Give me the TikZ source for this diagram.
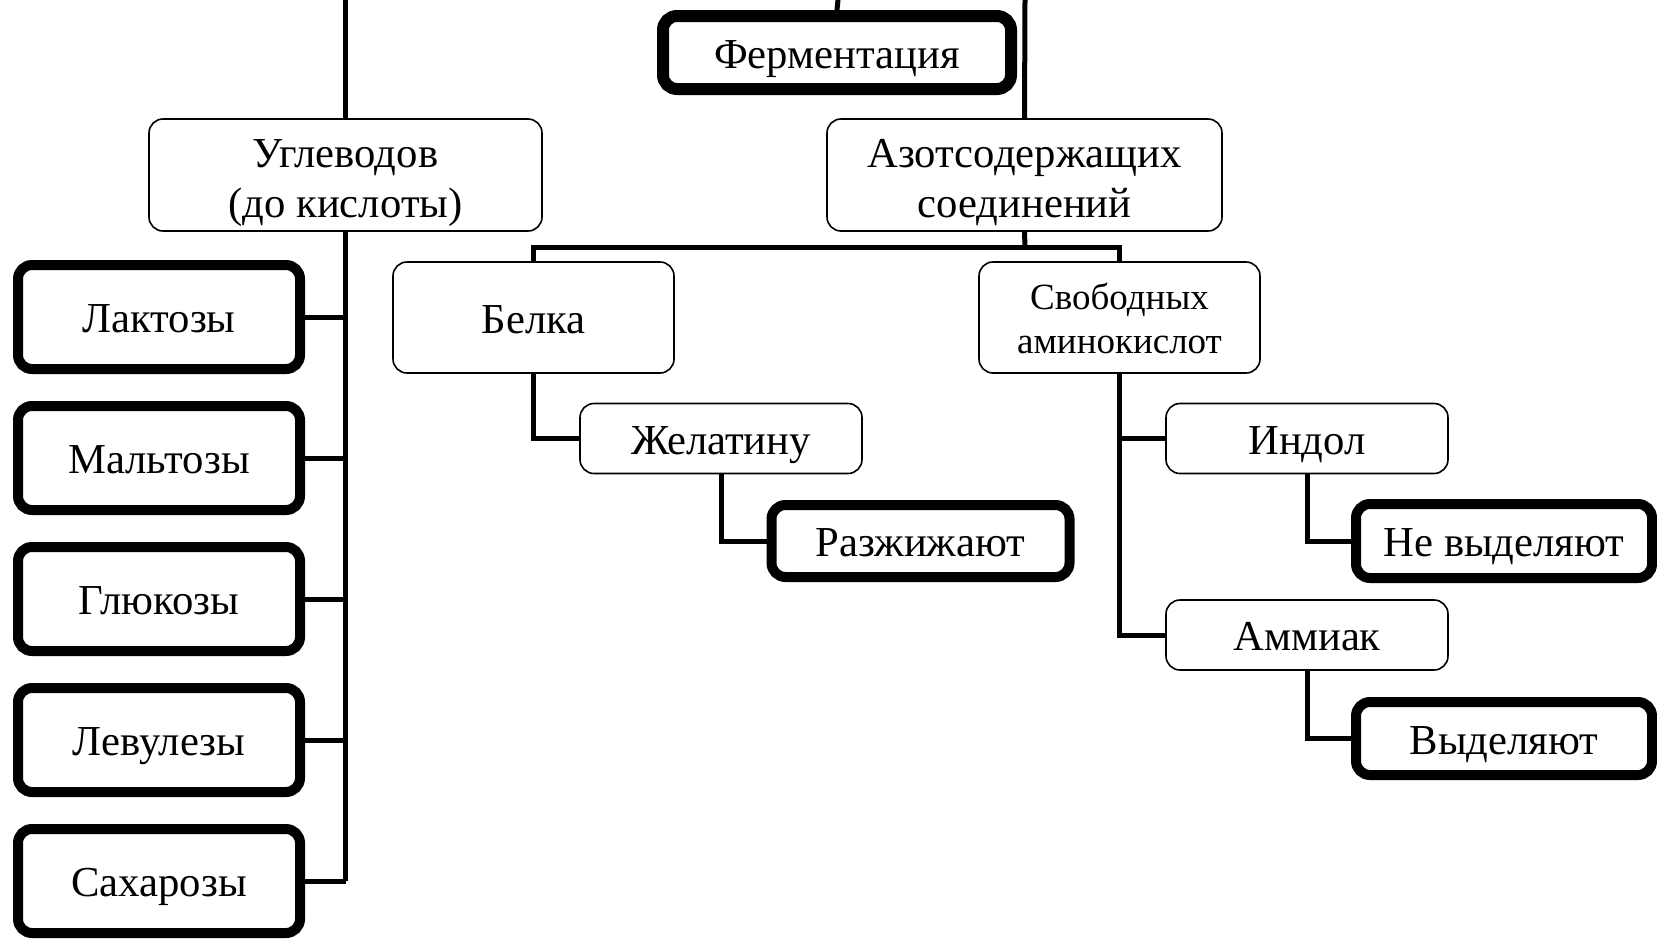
\documentclass[tikz,border=0pt]{standalone}
\usepackage{fontspec}
\setmainfont{Liberation Serif}
% struts that fix where the baselines sit inside each box
\newcommand\onel[1]{\rule[-12pt]{0pt}{55pt}#1}
\newcommand\topst[1]{\rule{0pt}{#1}}
\newcommand\botst{\rule[-12pt]{0pt}{12pt}}
\begin{document}
\begin{tikzpicture}[x=1pt,y=-1pt,
  base/.style={draw=black,fill=white,rounded corners=14pt,align=center,
    inner sep=0pt,font=\fontsize{42.7}{50}\selectfont},
  thinbox/.style={base,line width=1.6pt},
  boldbox/.style={base,line width=10pt},
  link/.style={draw=black,line width=5pt,line join=miter}]
\useasboundingbox (0,0) rectangle (1657,940);

% top level
\node[boldbox,line width=12pt,minimum width=348pt,minimum height=73pt] (ferm) at (837,52.5) {\onel{Ферментация}};
\node[thinbox,minimum width=393pt,minimum height=112pt] (ugl) at (345.5,175)
  {\topst{46pt}Углеводов\\\botst(до кислоты)};
\node[thinbox,minimum width=395pt,minimum height=112pt] (azot) at (1024.5,175)
  {\topst{46pt}Азотсодержащих\\\botst соединений};

% carbohydrates
\node[boldbox,minimum width=282pt,minimum height=104pt] (lak) at (159,317) {\onel{Лактозы}};
\node[boldbox,minimum width=282pt,minimum height=104pt] (mal) at (159,458) {\onel{Мальтозы}};
\node[boldbox,minimum width=282pt,minimum height=104pt] (glu) at (159,599) {\onel{Глюкозы}};
\node[boldbox,minimum width=282pt,minimum height=104pt] (lev) at (159,740) {\onel{Левулезы}};
\node[boldbox,minimum width=282pt,minimum height=104pt] (sah) at (159,881) {\onel{Сахарозы}};

% nitrogen compounds
\node[thinbox,minimum width=281pt,minimum height=111pt] (belka) at (533.5,317.5) {\onel{Белка}};
\node[thinbox,minimum width=281pt,minimum height=111pt,
  font=\fontsize{37}{44}\selectfont] (svob) at (1119.5,317.5)
  {\topst{39pt}Свободных\\\botst аминокислот};
\node[thinbox,minimum width=282pt,minimum height=70pt] (zhel) at (721,438.5) {\onel{Желатину}};
\node[boldbox,minimum width=298pt,minimum height=72pt] (razh) at (920.5,541) {\onel{Разжижают}};
\node[thinbox,minimum width=282pt,minimum height=70pt] (indol) at (1307,438.5) {\onel{Индол}};
\node[thinbox,minimum width=282pt,minimum height=70pt] (amm) at (1307,635) {\onel{Аммиак}};
\node[boldbox,minimum width=296pt,minimum height=74pt] (nevyd) at (1504,541) {\onel{Не выделяют}};
\node[boldbox,minimum width=296pt,minimum height=73pt] (vyd) at (1504,738.5) {\onel{Выделяют}};

% free ends of the lines coming from above
\coordinate (tl) at (345.5,0);
\coordinate (tm) at (838,0);
\coordinate (tr) at (1025,0);
\coordinate (bar) at (1025,247);

% connectors
\draw[link] (tl) -- (ugl.north);
\draw[link] (tm) -- (ferm.north);
\draw[link] (tr) -- (azot.north);
\draw[link] (ugl.south) -- (ugl.south |- sah.east);
\foreach \n in {lak,mal,glu,lev,sah}
  \draw[link] (\n.east) -- (\n.east -| ugl.south);
\draw[link] (azot.south) -- (bar);
\draw[link] (belka.north) |- (bar) -| (svob.north);
\draw[link] (belka.south) |- (zhel.west);
\draw[link] (zhel.south) |- (razh.west);
\draw[link] (svob.south) |- (indol.west);
\draw[link] (svob.south) |- (amm.west);
\draw[link] (indol.south) |- (nevyd.west);
\draw[link] (amm.south) |- (vyd.west);
\end{tikzpicture}
\end{document}
